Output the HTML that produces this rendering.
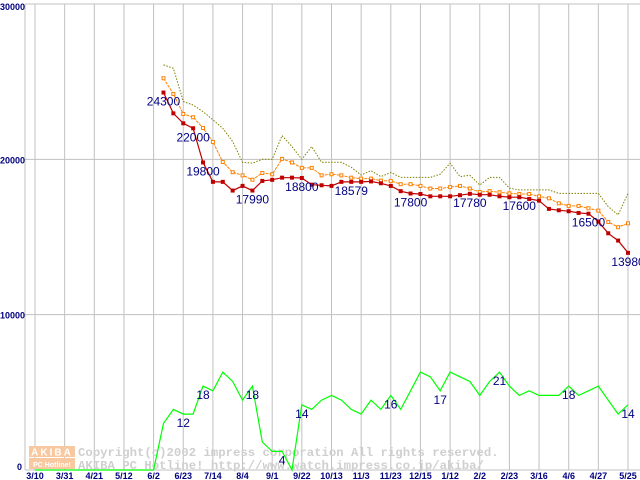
<!DOCTYPE html>
<html><head><meta charset="utf-8"><style>
html,body{margin:0;padding:0;background:#fff;}
svg{display:block;}
text{font-family:"Liberation Sans",sans-serif;}
</style></head><body>
<svg id="chart" width="640" height="480" viewBox="0 0 640 480" xmlns="http://www.w3.org/2000/svg">
<g id="grid"></g>
<g id="watermark">
  <rect x="29" y="446" width="46" height="11" fill="#f8c8a0"/>
  <rect x="29" y="458" width="46" height="11" fill="#f8c8a0"/>
  <text x="52" y="455.5" text-anchor="middle" font-size="10" font-weight="bold" fill="#fff" letter-spacing="2">AKIBA</text>
  <text x="52" y="467" text-anchor="middle" font-size="7" font-weight="bold" fill="#fff">PC Hotline!</text>
  <text x="78" y="456" style="font-family:'Liberation Mono',monospace;font-size:12.3px;font-weight:bold" fill="#cfcfcf">Copyright(c)2002 impress corporation All rights reserved.</text>
  <text x="78" y="469" style="font-family:'Liberation Mono',monospace;font-size:12.3px;font-weight:bold" fill="#cfcfcf">AKIBA PC Hotline!  http://www.watch.impress.co.jp/akiba/</text>
</g>
<g id="series"></g>
<g id="labels"></g>
</svg>
<script>
const xTickLabels = ["3/10","3/31","4/21","5/12","6/2","6/23","7/14","8/4","9/1","9/22","10/13","11/3","11/23","12/15","1/12","2/2","2/23","3/16","4/6","4/27","5/25"];
const yTickValues = [0,10000,20000,30000];
const redStart = 13;
const minPrice = [24300,22960,22320,22000,19800,18550,18550,17990,18290,17990,18610,18680,18820,18820,18800,18370,18330,18290,18550,18550,18550,18579,
 18460,18290,17950,17800,17770,17620,17620,17620,17690,17780,17720,17720,17620,17560,17560,17450,17340,16810,16720,16660,16550,16500,15990,15240,14770,13980];
const avgPrice = [25220,24210,22920,22710,22020,21120,19830,19170,18970,18690,19120,19040,20030,19800,19450,19450,18970,19040,18970,18820,18760,18760,
 18630,18610,18400,18400,18290,18120,18120,18210,18290,18120,17900,17950,17880,17810,17770,17770,17620,17490,17170,17000,17000,16850,16700,15970,15630,15880];
const maxPrice = [26080,25860,23720,23500,23070,22540,22000,21140,19810,19750,20000,20000,21530,20820,20000,20820,19810,19810,19810,19490,18990,19270,
 18890,19150,18840,18840,18840,18840,19040,19750,18890,18970,18350,18840,18840,18140,18030,18030,18030,18030,17810,17810,17810,17810,17810,16960,16420,17810];
const shopCount = [0,0,0,0,0,0,0,0,0,0,0,0,0,10,13,12,12,18,17,21,19,15,18,6,4,4,0,14,13,15,16,15,13,12,15,13,16,13,17,21,20,17,21,20,19,16,19,21,18,16,17,16,16,16,18,16,17,18,15,12,14];
const countScale = 300;
const priceLabelWeeks = [13,16,17,22,27,32,38,44,49,56,60];
const priceLabelTexts = ["24300","22000","19800","17990","18800","18579","17800","17780","17600","16500","13980"];
const countLabelWeeks = [15,17,22,25,27,36,41,47,54,60];
const countLabelTexts = ["12","18","18","4","14","16","17","21","18","14"];

const NS="http://www.w3.org/2000/svg";
const xs = w => 35 + w*29.65/3;
const ys = v => 470 - v*(466/30000);
function mk(tag, attrs, parent){const e=document.createElementNS(NS,tag);for(const k in attrs)e.setAttribute(k,attrs[k]);parent.appendChild(e);return e;}
const grid=document.getElementById('grid'), ser=document.getElementById('series'), lab=document.getElementById('labels');

let ax=mk('line',{x1:25,y1:4,x2:25,y2:470,stroke:'#c0c0c0','stroke-width':1},grid);


yTickValues.forEach(v=>{
  const l=mk('line',{x1:25,y1:ys(v),x2:640,y2:ys(v),stroke:'#c0c0c0','stroke-width':1},grid);
  
  
  const t=mk('text',{x:v===0?22:0,y:v===0?470:(v===30000?10:ys(v)+4),'font-size':9,'font-weight':'bold',fill:'#000080','text-anchor':v===0?'end':'start'},grid);
  t.textContent=String(v);
  
  
});
xTickLabels.forEach((s,i)=>{
  const x=xs(i*3);
  const l=mk('line',{x1:x,y1:4,x2:x,y2:470,stroke:'#c0c0c0','stroke-width':1},grid);
  
  
  const t=mk('text',{x:x,y:479,'font-size':9,'font-weight':'bold',fill:'#000080','text-anchor':'middle'},grid);
  t.textContent=s;
  
  
});

function pts(arr,start,scale){return arr.map((v,i)=>xs(start+i).toFixed(1)+','+ys(v*scale).toFixed(1)).join(' ');}
let p;
p=mk('polyline',{points:pts(shopCount,0,countScale),fill:'none',stroke:'#00ff00','stroke-width':1.2},ser);


p=mk('polyline',{points:pts(maxPrice,redStart,1),fill:'none',stroke:'#808000','stroke-width':1,'stroke-dasharray':'1.5 1.5'},ser);


p=mk('polyline',{points:pts(avgPrice,redStart,1),fill:'none',stroke:'#ff8000','stroke-width':1,'stroke-dasharray':'3 1'},ser);


avgPrice.forEach((v,i)=>{
  const r=mk('rect',{x:xs(redStart+i)-1.5,y:ys(v)-1.5,width:3,height:3,fill:'#fff',stroke:'#ff8000','stroke-width':1},ser);
  
  
});
p=mk('polyline',{points:pts(minPrice,redStart,1),fill:'none',stroke:'#c00000','stroke-width':1.2},ser);


minPrice.forEach((v,i)=>{
  const r=mk('rect',{x:xs(redStart+i)-2,y:ys(v)-2,width:4,height:4,fill:'#c00000'},ser);
  
  
});
priceLabelWeeks.forEach((w,k)=>{
  const t=mk('text',{x:xs(w),y:ys(minPrice[w-redStart])+13,'font-size':12,fill:'#000080','text-anchor':'middle'},lab);
  t.textContent=priceLabelTexts[k];
  
  
});
countLabelWeeks.forEach((w,k)=>{
  const t=mk('text',{x:xs(w),y:ys(shopCount[w]*countScale)+13,'font-size':12,fill:'#000080','text-anchor':'middle'},lab);
  t.textContent=countLabelTexts[k];
  
  
});
</script>
</body></html>
